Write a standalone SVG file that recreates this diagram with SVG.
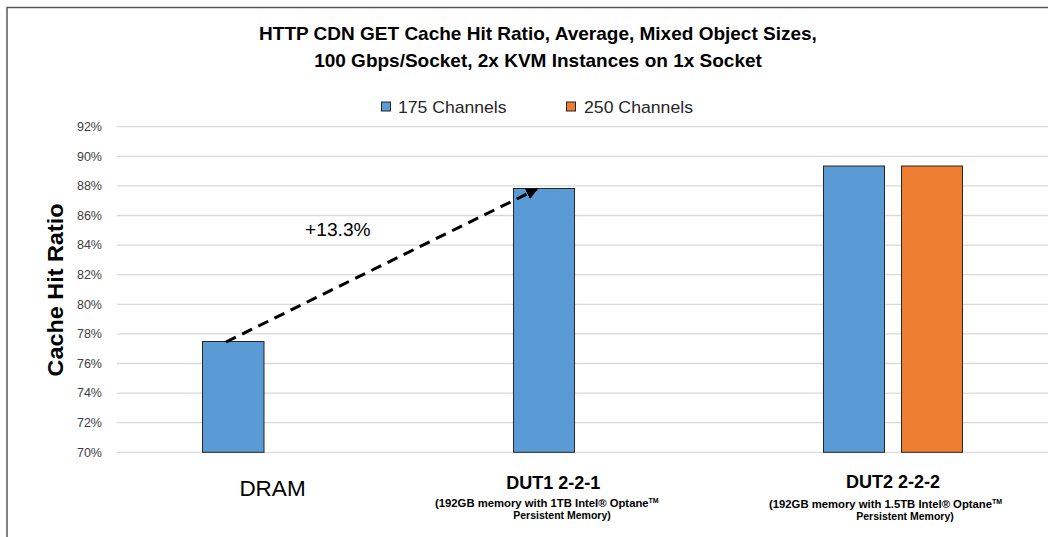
<svg xmlns="http://www.w3.org/2000/svg" width="1048" height="537" viewBox="0 0 1048 537">
<style>
.grid{stroke:#d9d9d9;stroke-width:1.3}
.tick{font-family:"Liberation Sans",Arial,sans-serif;font-size:12.5px;fill:#404040;text-anchor:end}
.bar{stroke:#262626;stroke-width:1}
.blue{fill:#5b9bd5}
.orange{fill:#ed7d31}
.title{font-family:"Liberation Sans",Arial,sans-serif;font-weight:bold;font-size:19px;fill:#000;text-anchor:middle}
.leg{font-family:"Liberation Sans",Arial,sans-serif;font-size:17px;fill:#262626}
.cat{font-family:"Liberation Sans",Arial,sans-serif;font-weight:bold;font-size:18px;fill:#000;text-anchor:middle}
.sub{font-family:"Liberation Sans",Arial,sans-serif;font-weight:bold;font-size:11.3px;fill:#000}
.sub2{font-family:"Liberation Sans",Arial,sans-serif;font-weight:bold;font-size:10.5px;fill:#000;text-anchor:middle}
.sup{font-size:7px}
</style>
<defs>
<marker id="ah" viewBox="0 0 10 10" refX="9" refY="5" markerWidth="4" markerHeight="4" orient="auto" markerUnits="strokeWidth">
<path d="M0,0 L10,5 L0,10 Z" fill="#000"/>
</marker>
</defs>
<rect width="1048" height="537" fill="#fff"/>
<path d="M7,537 V7.5 H1048" fill="none" stroke="#595959" stroke-width="1.5"/>

<g id="title">
<text class="title" x="538" y="40">HTTP CDN GET Cache Hit Ratio, Average, Mixed Object Sizes,</text>
<text class="title" x="538" y="67">100 Gbps/Socket, 2x KVM Instances on 1x Socket</text>
</g>

<g id="legend">
<rect class="bar blue" x="381.5" y="102" width="9" height="9"/>
<text class="leg" x="398" y="112.7" textLength="108.5" lengthAdjust="spacingAndGlyphs">175 Channels</text>
<rect class="bar orange" x="566.5" y="102" width="9" height="9"/>
<text class="leg" x="584" y="112.7" textLength="109" lengthAdjust="spacingAndGlyphs">250 Channels</text>
</g>

<g id="axis">
<line class="grid" x1="117" y1="126.7" x2="1048" y2="126.7"/>
<line class="grid" x1="117" y1="156.3" x2="1048" y2="156.3"/>
<line class="grid" x1="117" y1="185.9" x2="1048" y2="185.9"/>
<line class="grid" x1="117" y1="215.5" x2="1048" y2="215.5"/>
<line class="grid" x1="117" y1="245.1" x2="1048" y2="245.1"/>
<line class="grid" x1="117" y1="274.7" x2="1048" y2="274.7"/>
<line class="grid" x1="117" y1="304.3" x2="1048" y2="304.3"/>
<line class="grid" x1="117" y1="333.9" x2="1048" y2="333.9"/>
<line class="grid" x1="117" y1="363.5" x2="1048" y2="363.5"/>
<line class="grid" x1="117" y1="393.1" x2="1048" y2="393.1"/>
<line class="grid" x1="117" y1="422.7" x2="1048" y2="422.7"/>
<line class="grid" x1="117" y1="452.3" x2="1048" y2="452.3"/>
<text class="tick" x="102" y="130.9">92%</text>
<text class="tick" x="102" y="160.5">90%</text>
<text class="tick" x="102" y="190.1">88%</text>
<text class="tick" x="102" y="219.7">86%</text>
<text class="tick" x="102" y="249.3">84%</text>
<text class="tick" x="102" y="278.9">82%</text>
<text class="tick" x="102" y="308.5">80%</text>
<text class="tick" x="102" y="338.1">78%</text>
<text class="tick" x="102" y="367.7">76%</text>
<text class="tick" x="102" y="397.3">74%</text>
<text class="tick" x="102" y="426.9">72%</text>
<text class="tick" x="102" y="456.5">70%</text>
<text transform="translate(63,290) rotate(-90)" font-family="'Liberation Sans',Arial,sans-serif" font-weight="bold" font-size="22" fill="#000" text-anchor="middle" textLength="173" lengthAdjust="spacingAndGlyphs">Cache Hit Ratio</text>
</g>

<g id="bar-dram">
<rect class="bar blue" x="202.5" y="341.5" width="61.5" height="110.8"/>
<text x="272.5" y="495.7" font-family="'Liberation Sans',Arial,sans-serif" font-size="22.5" fill="#000" text-anchor="middle">DRAM</text>
</g>

<g id="bar-dut1">
<rect class="bar blue" x="513.5" y="188.5" width="61" height="263.8"/>
<text class="cat" x="553.3" y="489.3">DUT1 2-2-1</text>
<text class="sub" x="435" y="506.7">(192GB memory with 1TB Intel® Optane<tspan class="sup" dy="-4">TM</tspan></text>
<text class="sub2" x="562" y="519.3">Persistent Memory)</text>
</g>

<g id="bar-dut2">
<rect class="bar blue" x="823.5" y="166" width="61" height="286.3"/>
<rect class="bar orange" x="901.5" y="166" width="61" height="286.3"/>
<text class="cat" x="893" y="488.3">DUT2 2-2-2</text>
<text class="sub" x="769" y="507.7">(192GB memory with 1.5TB Intel® Optane<tspan class="sup" dy="-4">TM</tspan></text>
<text class="sub2" x="905" y="520">Persistent Memory)</text>
</g>

<g id="connectors">
<line x1="226" y1="342" x2="537" y2="189" stroke="#000" stroke-width="3" stroke-dasharray="11,7" marker-end="url(#ah)"/>
<text x="305" y="235.7" font-family="'Liberation Sans',Arial,sans-serif" font-size="18" fill="#000" textLength="65.7" lengthAdjust="spacingAndGlyphs">+13.3%</text>
</g>
</svg>
